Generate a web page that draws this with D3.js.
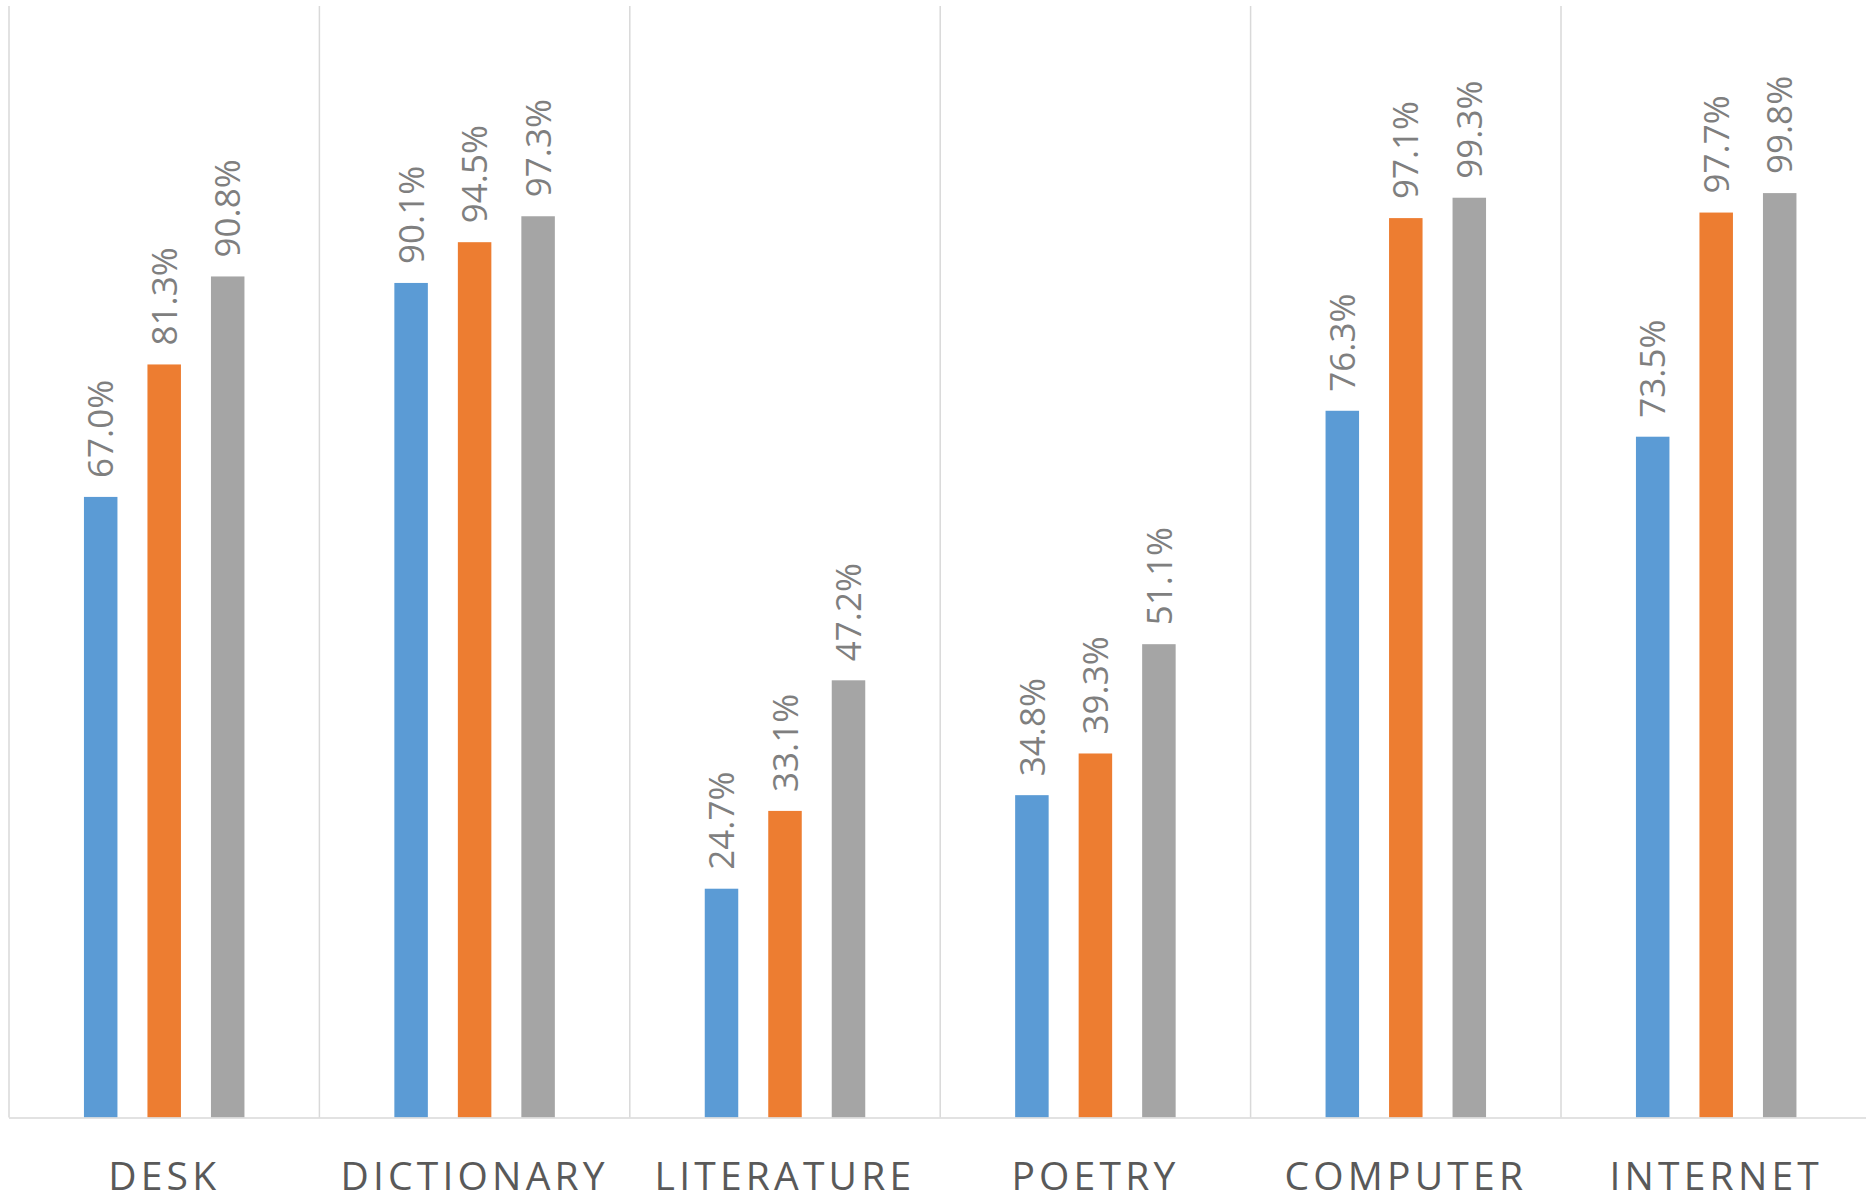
<!DOCTYPE html>
<html>
<head>
<meta charset="utf-8">
<script src="https://cdn.jsdelivr.net/npm/d3@7"></script>
<style>
  html, body { margin: 0; padding: 0; background: #ffffff; }
  svg { display: block; }
</style>
</head>
<body>
<svg id="chart" width="1866" height="1200"></svg>
<script>
// Category names along the x axis
const categories = ["DESK", "DICTIONARY", "LITERATURE", "POETRY", "COMPUTER", "INTERNET"];
// Three series per category (shares, as fractions)
const seriesKeys = ["s1", "s2", "s3"];
const s1 = [0.670, 0.901, 0.247, 0.348, 0.763, 0.735];
const s2 = [0.813, 0.945, 0.331, 0.393, 0.971, 0.977];
const s3 = [0.908, 0.973, 0.472, 0.511, 0.993, 0.998];
const seriesColors = ["#5b9bd5", "#ed7d31", "#a5a5a5"];
const yDomain = [0, 1.2];

const seriesValues = [s1, s2, s3];
const rows = categories.map((c, i) => ({
  category: c,
  values: seriesKeys.map((k, j) => ({ key: k, value: seriesValues[j][i], color: seriesColors[j] }))
}));

const svg = d3.select("#chart");
const plot = { left: 9, top: 6, bandWidth: 310.4, bottom: 1117.5 };
const plotRight = plot.left + plot.bandWidth * categories.length;

const x = d3.scaleBand()
  .domain(categories)
  .range([plot.left, plotRight])
  .paddingInner(0)
  .paddingOuter(0);

// inner scale for the three bars within a category
const barW = 33.5, barStep = 63.5;
const groupW = barW + barStep * 2;
const xInner = d3.scaleBand()
  .domain(seriesKeys)
  .range([(x.bandwidth() - groupW) / 2, (x.bandwidth() + groupW) / 2])
  .paddingInner((barStep - barW) / barStep)
  .paddingOuter(0);

const y = d3.scaleLinear().domain(yDomain).range([plot.bottom, plot.top]);

// vertical category gridlines
const gridXs = categories.map(c => x(c));
svg.append("g")
  .selectAll("line")
  .data(gridXs)
  .join("line")
  .attr("x1", d => d).attr("x2", d => d)
  .attr("y1", y(yDomain[1])).attr("y2", y(0))
  .attr("stroke", "#d9d9d9")
  .attr("stroke-width", 1.5);

// bars
const groups = svg.append("g")
  .selectAll("g")
  .data(rows)
  .join("g")
  .attr("transform", d => `translate(${x(d.category)},0)`);

groups.selectAll("rect")
  .data(d => d.values)
  .join("rect")
  .attr("x", d => xInner(d.key))
  .attr("width", xInner.bandwidth())
  .attr("y", d => y(d.value))
  .attr("height", d => y(0) - y(d.value))
  .attr("fill", d => d.color);

// rotated value labels above each bar
const fmt = d3.format(".1%");
groups.selectAll("text")
  .data(d => d.values)
  .join("text")
  .attr("transform", d => `translate(${xInner(d.key) + xInner.bandwidth() / 2},${y(d.value) - 19}) rotate(-90)`)
  .attr("dy", "0.36em")
  .attr("text-anchor", "start")
  .attr("font-family", "'Open Sans', sans-serif")
  .attr("font-size", 35)
  .attr("fill", "#7f7f7f")
  .text(d => fmt(d.value));

// category axis
const xAxis = d3.axisBottom(x).tickSize(0).tickPadding(0);
const axisG = svg.append("g")
  .attr("transform", `translate(0,${y(0)})`)
  .call(xAxis);
axisG.select(".domain")
  .attr("d", `M${plot.left},0.5H${plotRight}`)
  .attr("stroke", "#d9d9d9")
  .attr("stroke-width", 1.5);
axisG.selectAll(".tick text")
  .attr("y", 72)
  .attr("dy", 0)
  .attr("font-family", "'Open Sans', sans-serif")
  .attr("font-size", 39)
  .attr("letter-spacing", 4.2)
  .attr("fill", "#595959");
</script>
</body>
</html>
